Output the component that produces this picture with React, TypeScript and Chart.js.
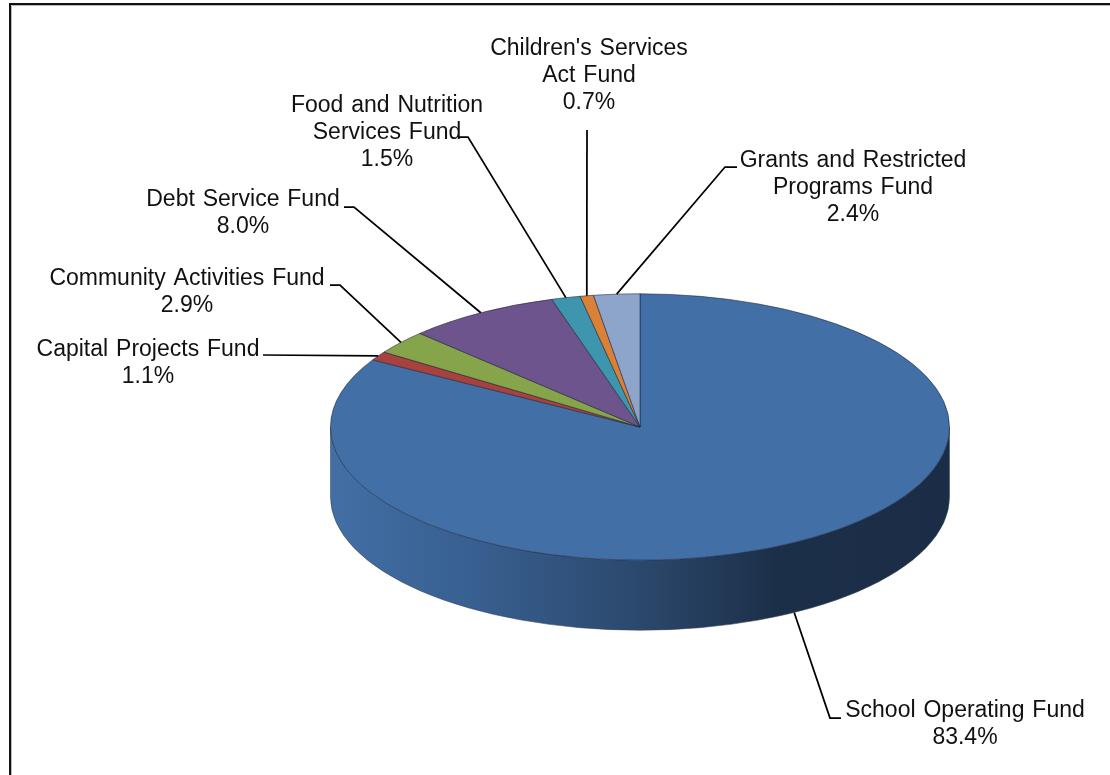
import React, { useEffect, useRef } from "react";
import { Chart, registerables } from "chart.js";

Chart.register(...registerables);

const funds = [
  "School Operating Fund",
  "Capital Projects Fund",
  "Community Activities Fund",
  "Debt Service Fund",
  "Food and Nutrition Services Fund",
  "Children's Services Act Fund",
  "Grants and Restricted Programs Fund",
];
const shares = [83.4, 1.1, 2.9, 8.0, 1.5, 0.7, 2.4];
const sliceColors = ["#416fa6", "#a8423f", "#86a44a", "#6e548d", "#3d96ae", "#da8137", "#8ea5cb"];
const labelLines = [
  ["School Operating Fund", "83.4%"],
  ["Capital Projects Fund", "1.1%"],
  ["Community Activities Fund", "2.9%"],
  ["Debt Service Fund", "8.0%"],
  ["Food and Nutrition", "Services Fund", "1.5%"],
  ["Children's Services", "Act Fund", "0.7%"],
  ["Grants and Restricted", "Programs Fund", "2.4%"],
];

// Label layout: text centre x, first line centre y, then the leader polyline start (points away from the slice).
const labelLayout = [
  { cx: 965, y: 711, leader: [[841, 718], [830, 718]] },
  { cx: 148, y: 350, leader: [[263, 355]] },
  { cx: 187, y: 279, leader: [[330, 285], [340, 285]] },
  { cx: 243, y: 200, leader: [[344, 207], [354, 207]] },
  { cx: 387, y: 106, leader: [[458, 137], [468, 137]] },
  { cx: 589, y: 49, leader: [[587, 130]] },
  { cx: 853, y: 161, leader: [[737, 167], [725, 167]] },
];

const CENTER_Y = 427;
const SQUASH = 133 / 309;
const DEPTH = 70;
const LINE_H = 26.6;

const pie3d = {
  id: "pie3d",
  beforeDraw(chart: any) {
    const { ctx, width, height } = chart;
    ctx.save();
    ctx.fillStyle = "#ffffff";
    ctx.fillRect(0, 0, width, height);
    ctx.lineWidth = 1;
    ctx.strokeStyle = "#b8b8b8";
    ctx.beginPath();
    ctx.moveTo(11.5, height);
    ctx.lineTo(11.5, 5.5);
    ctx.lineTo(width, 5.5);
    ctx.stroke();
    ctx.lineWidth = 2;
    ctx.strokeStyle = "#111111";
    ctx.beginPath();
    ctx.moveTo(10, height);
    ctx.lineTo(10, 4);
    ctx.lineTo(width, 4);
    ctx.stroke();
    ctx.restore();
  },
  beforeDatasetsDraw(chart: any) {
    const { ctx } = chart;
    const arc = chart.getDatasetMeta(0).data[0];
    const { x, y, outerRadius: r } = arc;
    const ry = r * SQUASH;
    ctx.save();
    const g = ctx.createLinearGradient(x - r, 0, x + r, 0);
    g.addColorStop(0, "#426fa5");
    g.addColorStop(0.25, "#375e8e");
    g.addColorStop(0.5, "#2b486c");
    g.addColorStop(0.72, "#1c2f49");
    g.addColorStop(1, "#1b2d46");
    ctx.beginPath();
    ctx.ellipse(x, CENTER_Y, r, ry, 0, 0, Math.PI, false);
    ctx.lineTo(x - r, CENTER_Y + DEPTH);
    ctx.ellipse(x, CENTER_Y + DEPTH, r, ry, 0, Math.PI, 0, true);
    ctx.closePath();
    ctx.fillStyle = g;
    ctx.fill();
    ctx.strokeStyle = "rgba(60,70,90,0.55)";
    ctx.lineWidth = 1;
    ctx.stroke();
    ctx.restore();

    ctx.save();
    ctx.translate(x, CENTER_Y);
    ctx.scale(1, SQUASH);
    ctx.translate(-x, -y);
  },
  afterDatasetsDraw(chart: any) {
    const { ctx } = chart;
    ctx.restore();
    const arcs = chart.getDatasetMeta(0).data;
    ctx.save();
    ctx.strokeStyle = "#000000";
    ctx.lineWidth = 1.75;
    ctx.lineJoin = "miter";
    arcs.forEach((arc: any, i: number) => {
      const mid = (arc.startAngle + arc.endAngle) / 2;
      const ex = arc.x + arc.outerRadius * Math.cos(mid);
      let ey = CENTER_Y + arc.outerRadius * SQUASH * Math.sin(mid);
      if (Math.sin(mid) > 0) ey += DEPTH;
      ctx.beginPath();
      labelLayout[i].leader.forEach(([px, py], k) => (k ? ctx.lineTo(px, py) : ctx.moveTo(px, py)));
      ctx.lineTo(ex, ey);
      ctx.stroke();
    });
    ctx.fillStyle = "#111111";
    ctx.font = '23px "Liberation Sans", Arial, sans-serif';
    ctx.textAlign = "center";
    ctx.textBaseline = "middle";
    (ctx as any).wordSpacing = "1.5px";
    labelLines.forEach((lines, i) => {
      lines.forEach((t, k) => ctx.fillText(t, labelLayout[i].cx, labelLayout[i].y + k * LINE_H));
    });
    ctx.restore();
  },
};

export default function App() {
  const ref = useRef<HTMLCanvasElement | null>(null);
  useEffect(() => {
    document.body.style.margin = "0";
    const chart = new Chart(ref.current as HTMLCanvasElement, {
      type: "pie",
      data: {
        labels: funds,
        datasets: [
          {
            data: shares,
            backgroundColor: sliceColors,
            borderColor: "rgba(25,35,60,0.8)",
            borderWidth: 1,
            clip: false,
          } as any,
        ],
      },
      options: {
        responsive: false,
        animation: false,
        layout: { padding: { left: 330, right: 160, top: 77, bottom: 78 } },
        plugins: { legend: { display: false }, tooltip: { enabled: false } },
      },
      plugins: [pie3d],
    });
    return () => chart.destroy();
  }, []);
  return <canvas ref={ref} width={1110} height={775} style={{ display: "block" }} />;
}
